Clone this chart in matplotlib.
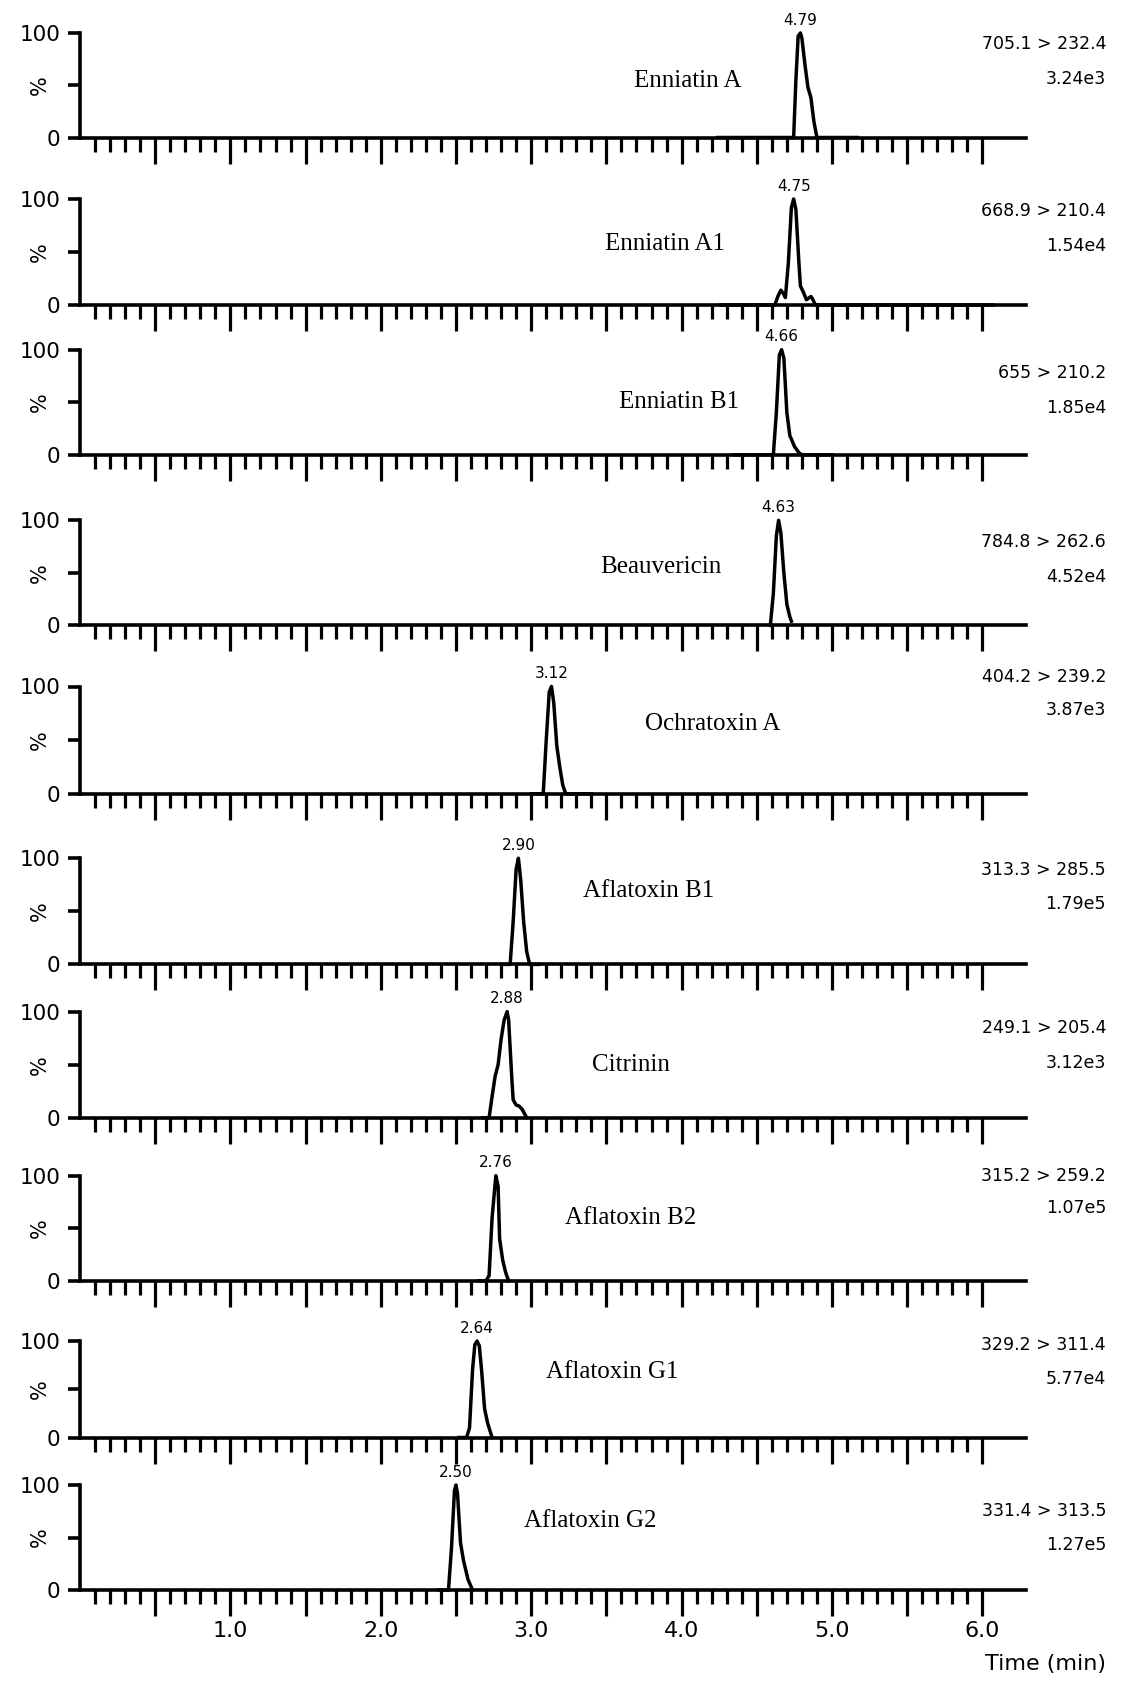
import matplotlib
matplotlib.use('Agg')
import matplotlib.pyplot as plt
from matplotlib.ticker import FixedLocator, FuncFormatter
import numpy as np

# --- data ---
compounds = ["Enniatin A", "Enniatin A1", "Enniatin B1", "Beauvericin", "Ochratoxin A",
             "Aflatoxin B1", "Citrinin", "Aflatoxin B2", "Aflatoxin G1", "Aflatoxin G2"]
transitions = ["705.1 > 232.4", "668.9 > 210.4", "655 > 210.2", "784.8 > 262.6", "404.2 > 239.2",
               "313.3 > 285.5", "249.1 > 205.4", "315.2 > 259.2", "329.2 > 311.4", "331.4 > 313.5"]
intensities = ["3.24e3", "1.54e4", "1.85e4", "4.52e4", "3.87e3",
               "1.79e5", "3.12e3", "1.07e5", "5.77e4", "1.27e5"]
rt_labels = ["4.79", "4.75", "4.66", "4.63", "3.12", "2.90", "2.88", "2.76", "2.64", "2.50"]

t_enn_a = [4.24, 4.745, 4.76, 4.775, 4.79, 4.80, 4.82, 4.84, 4.86, 4.88, 4.90, 5.17]
y_enn_a = [0, 0, 55, 97, 100, 95, 70, 48, 38, 15, 0, 0]

t_enn_a1 = [4.26, 4.62, 4.64, 4.66, 4.68, 4.69, 4.71, 4.73, 4.745, 4.76, 4.78, 4.79, 4.81, 4.83, 4.86, 4.87, 4.89, 6.07]
y_enn_a1 = [0, 0, 8, 14, 10, 7, 40, 92, 100, 90, 40, 18, 12, 5, 8, 6, 0, 0]

t_enn_b1 = [4.35, 4.61, 4.63, 4.65, 4.665, 4.68, 4.70, 4.72, 4.73, 4.75, 4.78, 4.80, 5.0]
y_enn_b1 = [0, 0, 40, 95, 100, 92, 40, 18, 15, 8, 2, 0, 0]

t_beau = [4.59, 4.61, 4.63, 4.645, 4.66, 4.68, 4.70, 4.72, 4.73]
y_beau = [0, 30, 85, 100, 88, 50, 20, 8, 4]

t_ota = [3.0, 3.08, 3.10, 3.12, 3.135, 3.15, 3.17, 3.19, 3.21, 3.23, 3.4]
y_ota = [0, 0, 50, 95, 100, 85, 45, 25, 8, 0, 0]

t_afb1 = [2.80, 2.86, 2.88, 2.90, 2.915, 2.93, 2.95, 2.97, 2.99, 3.05]
y_afb1 = [0, 0, 40, 90, 100, 80, 40, 12, 0, 0]

t_cit = [2.68, 2.72, 2.74, 2.76, 2.78, 2.80, 2.82, 2.84, 2.85, 2.87, 2.88, 2.90, 2.92, 2.94, 2.97]
y_cit = [0, 0, 20, 39, 50, 74, 92, 100, 92, 40, 17, 12, 11, 8, 0]

t_afb2 = [2.65, 2.70, 2.72, 2.74, 2.765, 2.78, 2.79, 2.81, 2.83, 2.85]
y_afb2 = [0, 0, 5, 60, 100, 90, 40, 20, 8, 0]

t_afg1 = [2.52, 2.57, 2.59, 2.61, 2.625, 2.64, 2.655, 2.67, 2.69, 2.71, 2.73, 2.74]
y_afg1 = [0, 0, 10, 70, 96, 100, 95, 70, 30, 15, 5, 0]

t_afg2 = [2.39, 2.45, 2.47, 2.49, 2.50, 2.51, 2.53, 2.55, 2.58, 2.61]
y_afg2 = [0, 0, 40, 95, 100, 92, 45, 28, 10, 0]

traces = [(t_enn_a, y_enn_a), (t_enn_a1, y_enn_a1), (t_enn_b1, y_enn_b1), (t_beau, y_beau),
          (t_ota, y_ota), (t_afb1, y_afb1), (t_cit, y_cit), (t_afb2, y_afb2),
          (t_afg1, y_afg1), (t_afg2, y_afg2)]

# --- layout (pixels in a 1126x1682 canvas) ---
W, H = 1126, 1682
ax_left, ax_right = 80, 1026
panel_px = [(33, 137.5), (199, 305), (349.7, 454.8), (520.3, 625.4), (686.5, 793.8),
            (858.2, 964.4), (1011.6, 1117.8), (1175.7, 1280.8), (1341, 1437.5), (1485, 1590)]
name_xy = [(4.04, 54), (3.89, 58), (3.98, 50), (3.86, 56), (4.21, 65),
           (3.78, 69), (3.66, 50), (3.66, 60), (3.54, 68), (3.39, 66)]
right_px = [(44, 79.4), (211.3, 245.6), (373.3, 407.6), (541.7, 577.1), (676.9, 710.1),
            (870, 904.3), (1027.6, 1063), (1175.7, 1208), (1345.2, 1379.5), (1511.4, 1544.7)]

sans = 'DejaVu Sans'
serif = 'Liberation Serif'
lw = 2.5

fig = plt.figure(figsize=(W / 100, H / 100), dpi=100)

major = np.arange(0.5, 6.01, 0.5)
minor = np.arange(0.1, 6.01, 0.1)

for i, (t, y) in enumerate(traces):
    top, bot = panel_px[i]
    ax = fig.add_axes([ax_left / W, 1 - bot / H, (ax_right - ax_left) / W, (bot - top) / H])
    ax.plot(t, y, color='black', lw=lw, clip_on=False)
    ax.set_xlim(0, 6.29)
    ax.set_ylim(0, 100)

    for s in ['top', 'right']:
        ax.spines[s].set_visible(False)
    ax.spines['left'].set_linewidth(2.6)
    ax.spines['bottom'].set_linewidth(2.6)

    ax.set_yticks([0, 50, 100])
    ax.set_yticklabels(['0', '', '100'], fontsize=15.5, family=sans)
    ax.tick_params(axis='y', direction='out', length=9, width=2.6, pad=5)

    ax.xaxis.set_major_locator(FixedLocator(major))
    ax.xaxis.set_minor_locator(FixedLocator(minor))
    ax.tick_params(axis='x', which='major', direction='out', length=18.5, width=2.3)
    ax.tick_params(axis='x', which='minor', direction='out', length=10, width=2.3)
    if i == len(traces) - 1:
        ax.xaxis.set_major_formatter(FuncFormatter(
            lambda v, p: f"{v:.1f}" if abs(v - round(v)) < 1e-6 else ""))
        ax.tick_params(axis='x', which='major', labelsize=16, pad=4)
        for lab in ax.get_xticklabels():
            lab.set_family(sans)
    else:
        ax.set_xticklabels([])

    ax.annotate('%', xy=(0, 50), xycoords=('axes fraction', 'data'), xytext=(-29, 0),
                textcoords='offset points', rotation=90, ha='center', va='center',
                fontsize=15, family=sans)

    # retention time above the apex
    k = int(np.argmax(y))
    ax.annotate(rt_labels[i], xy=(t[k], y[k]), xytext=(0, 6), textcoords='offset points',
                ha='center', va='baseline', fontsize=11, family=sans, annotation_clip=False)

    nx, ny = name_xy[i]
    ax.text(nx, ny, compounds[i], ha='center', va='center', fontsize=18, family=serif)

    y1, y2 = right_px[i]
    fig.text(1106 / W, 1 - y1 / H, transitions[i], ha='right', va='center', fontsize=12.5, family=sans)
    fig.text(1106 / W, 1 - y2 / H, intensities[i], ha='right', va='center', fontsize=12.5, family=sans)

fig.text(1106 / W, 1 - 1664 / H, 'Time (min)', ha='right', va='center', fontsize=16, family=sans)

fig.savefig('out.png', dpi=100)
